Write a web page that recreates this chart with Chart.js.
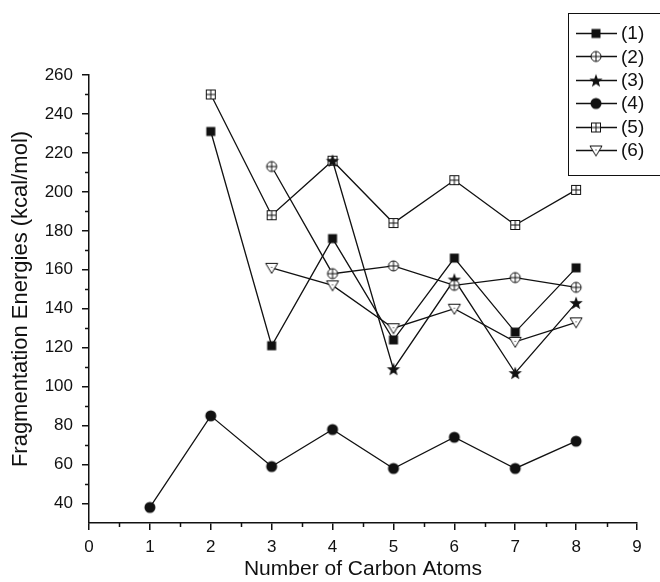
<!DOCTYPE html>
<html>
<head>
<meta charset="utf-8">
<script src="https://cdn.jsdelivr.net/npm/chart.js@4.4.0/dist/chart.umd.min.js"></script>
<style>
    html, body { margin: 0; padding: 0; background: #fff; }
    #wrap { width: 660px; height: 582px; }
</style>
</head>
<body>
<div id="wrap"><canvas id="chart" width="660" height="582"></canvas></div>
<script>
// ─── DATA ────────────────────────────────────────────────────
const carbonAtoms = [1, 2, 3, 4, 5, 6, 7, 8];
const series1 = [null, 231, 121, 176, 124, 166, 128, 161];
const series2 = [null, null, 213, 158, 162, 152, 156, 151];
const series3 = [null, null, null, 216, 109, 155, 107, 143];
const series4 = [38, 85, 59, 78, 58, 74, 58, 72];
const series5 = [null, 250, 188, 216, 184, 206, 183, 201];
const series6 = [null, null, 161, 152, 130, 140, 123, 133];
const seriesLabels = ['(1)', '(2)', '(3)', '(4)', '(5)', '(6)'];

const xTicks = [0, 1, 2, 3, 4, 5, 6, 7, 8, 9];
const xMinorTicks = [0.5, 1.5, 2.5, 3.5, 4.5, 5.5, 6.5, 7.5, 8.5];
const yTicks = [40, 60, 80, 100, 120, 140, 160, 180, 200, 220, 240, 260];
const yMinorTicks = [50, 70, 90, 110, 130, 150, 170, 190, 210, 230, 250];

const FONT = "'Liberation Sans', Arial, sans-serif";
const INK = '#111';


// ─── MARKERS ─────────────────────────────────────────────────

/**
 * Builds a small canvas to use as a Chart.js pointStyle.
 */
function makeMarker(kind) {
    const size = 16;
    const c = document.createElement('canvas');
    c.width = size;
    c.height = size;
    const ctx = c.getContext('2d');
    const m = size / 2;
    ctx.strokeStyle = INK;
    ctx.fillStyle = INK;
    ctx.lineWidth = 1;

    if (kind === 'square') {
        ctx.fillRect(m - 4.5, m - 4.5, 9, 9);
    } else if (kind === 'circlePlus') {
        ctx.fillStyle = '#fff';
        ctx.beginPath();
        ctx.arc(m, m, 5, 0, Math.PI * 2);
        ctx.fill();
        ctx.stroke();
        ctx.beginPath();
        ctx.moveTo(m - 5, m); ctx.lineTo(m + 5, m);
        ctx.moveTo(m, m - 5); ctx.lineTo(m, m + 5);
        ctx.stroke();
    } else if (kind === 'star') {
        ctx.beginPath();
        for (let i = 0; i < 10; i++) {
            const r = i % 2 === 0 ? 7 : 2.9;
            const a = -Math.PI / 2 + i * Math.PI / 5;
            const px = m + r * Math.cos(a);
            const py = m + 0.5 + r * Math.sin(a);
            if (i === 0) ctx.moveTo(px, py); else ctx.lineTo(px, py);
        }
        ctx.closePath();
        ctx.fill();
    } else if (kind === 'circle') {
        ctx.beginPath();
        ctx.arc(m, m, 5.5, 0, Math.PI * 2);
        ctx.fill();
    } else if (kind === 'squarePlus') {
        ctx.fillStyle = '#fff';
        ctx.fillRect(m - 4.5, m - 4.5, 9, 9);
        ctx.strokeRect(m - 4.5, m - 4.5, 9, 9);
        ctx.beginPath();
        ctx.moveTo(m - 4.5, m); ctx.lineTo(m + 4.5, m);
        ctx.moveTo(m, m - 4.5); ctx.lineTo(m, m + 4.5);
        ctx.stroke();
    } else if (kind === 'triangleDown') {
        ctx.fillStyle = '#fff';
        ctx.beginPath();
        ctx.moveTo(m - 6, m - 4.5);
        ctx.lineTo(m + 6, m - 4.5);
        ctx.lineTo(m, m + 5.5);
        ctx.closePath();
        ctx.fill();
        ctx.stroke();
        ctx.fillStyle = INK;
        ctx.fillRect(m - 0.5, m - 1, 1, 1);
    }
    return c;
}

const markerKinds = ['square', 'circlePlus', 'star', 'circle', 'squarePlus', 'triangleDown'];
const allSeries = [series1, series2, series3, series4, series5, series6];


// ─── PLUGINS ─────────────────────────────────────────────────

// Short minor tick marks on the axes (Chart.js has no minor ticks)
const minorTicksPlugin = {
    id: 'minorTicks',
    afterDraw(chart) {
        const { ctx, scales: { x, y }, chartArea } = chart;
        ctx.save();
        ctx.strokeStyle = INK;
        ctx.lineWidth = 1.5;
        ctx.beginPath();
        xMinorTicks.forEach(v => {
            const px = Math.round(x.getPixelForValue(v)) + 0.5;
            ctx.moveTo(px, chartArea.bottom);
            ctx.lineTo(px, chartArea.bottom + 4);
        });
        yMinorTicks.forEach(v => {
            const py = Math.round(y.getPixelForValue(v)) + 0.5;
            ctx.moveTo(chartArea.left, py);
            ctx.lineTo(chartArea.left - 4, py);
        });
        ctx.stroke();
        ctx.restore();
    }
};

// Boxed legend in the top right corner: "—marker— (n)"
const boxLegendPlugin = {
    id: 'boxLegend',
    afterDraw(chart) {
        const { ctx } = chart;
        ctx.save();
        ctx.strokeStyle = INK;
        ctx.lineWidth = 1;
        ctx.strokeRect(568.5, 13.5, 110, 162);
        ctx.font = `19px ${FONT}`;
        ctx.textBaseline = 'middle';
        ctx.fillStyle = INK;
        chart.data.datasets.forEach((ds, i) => {
            const cy = 33 + i * 23.4;
            ctx.lineWidth = 1.3;
            ctx.beginPath();
            ctx.moveTo(576, Math.round(cy) + 0.5);
            ctx.lineTo(617, Math.round(cy) + 0.5);
            ctx.stroke();
            const img = ds.pointStyle;
            ctx.drawImage(img, 596 - img.width / 2, Math.round(cy) - img.height / 2 + 0.5);
            ctx.fillText(ds.label, 621, cy + 1);
        });
        ctx.restore();
    }
};


// ─── CHART ───────────────────────────────────────────────────

const datasets = allSeries.map((values, i) => ({
    label: seriesLabels[i],
    data: carbonAtoms.map((c, j) => ({ x: c, y: values[j] })),
    borderColor: INK,
    borderWidth: 1.3,
    pointStyle: makeMarker(markerKinds[i]),
    pointRadius: 6,
    pointHoverRadius: 6,
    fill: false,
    tension: 0
}));

new Chart(document.getElementById('chart'), {
    type: 'line',
    data: { datasets },
    plugins: [minorTicksPlugin, boxLegendPlugin],
    options: {
        responsive: false,
        animation: false,
        layout: { padding: { top: 75, right: 23, left: 0, bottom: 0 } },
        plugins: {
            legend: { display: false },
            tooltip: { enabled: false }
        },
        scales: {
            x: {
                type: 'linear',
                min: 0,
                max: 9,
                afterBuildTicks: s => { s.ticks = xTicks.map(v => ({ value: v })); },
                afterFit: s => { s.height = 59; },
                ticks: { color: INK, font: { family: FONT, size: 17 }, padding: 7, maxRotation: 0 },
                grid: { drawOnChartArea: false, drawTicks: true, tickLength: 7, color: INK, lineWidth: 1.5 },
                border: { display: true, color: INK, width: 1.5 },
                title: {
                    display: true,
                    text: 'Number of Carbon Atoms',
                    color: INK,
                    font: { family: FONT, size: 21 },
                    padding: { top: 2, bottom: 0 }
                }
            },
            y: {
                type: 'linear',
                min: 30,
                max: 260,
                afterBuildTicks: s => { s.ticks = yTicks.map(v => ({ value: v })); },
                afterFit: s => { s.width = 89; },
                ticks: { color: INK, font: { family: FONT, size: 17 }, padding: 9 },
                grid: { drawOnChartArea: false, drawTicks: true, tickLength: 7, color: INK, lineWidth: 1.5 },
                border: { display: true, color: INK, width: 1.5 },
                title: {
                    display: true,
                    text: 'Fragmentation Energies (kcal/mol)',
                    color: INK,
                    font: { family: FONT, size: 22 },
                    padding: { top: 8, bottom: 0 }
                }
            }
        }
    }
});
</script>
</body>
</html>
